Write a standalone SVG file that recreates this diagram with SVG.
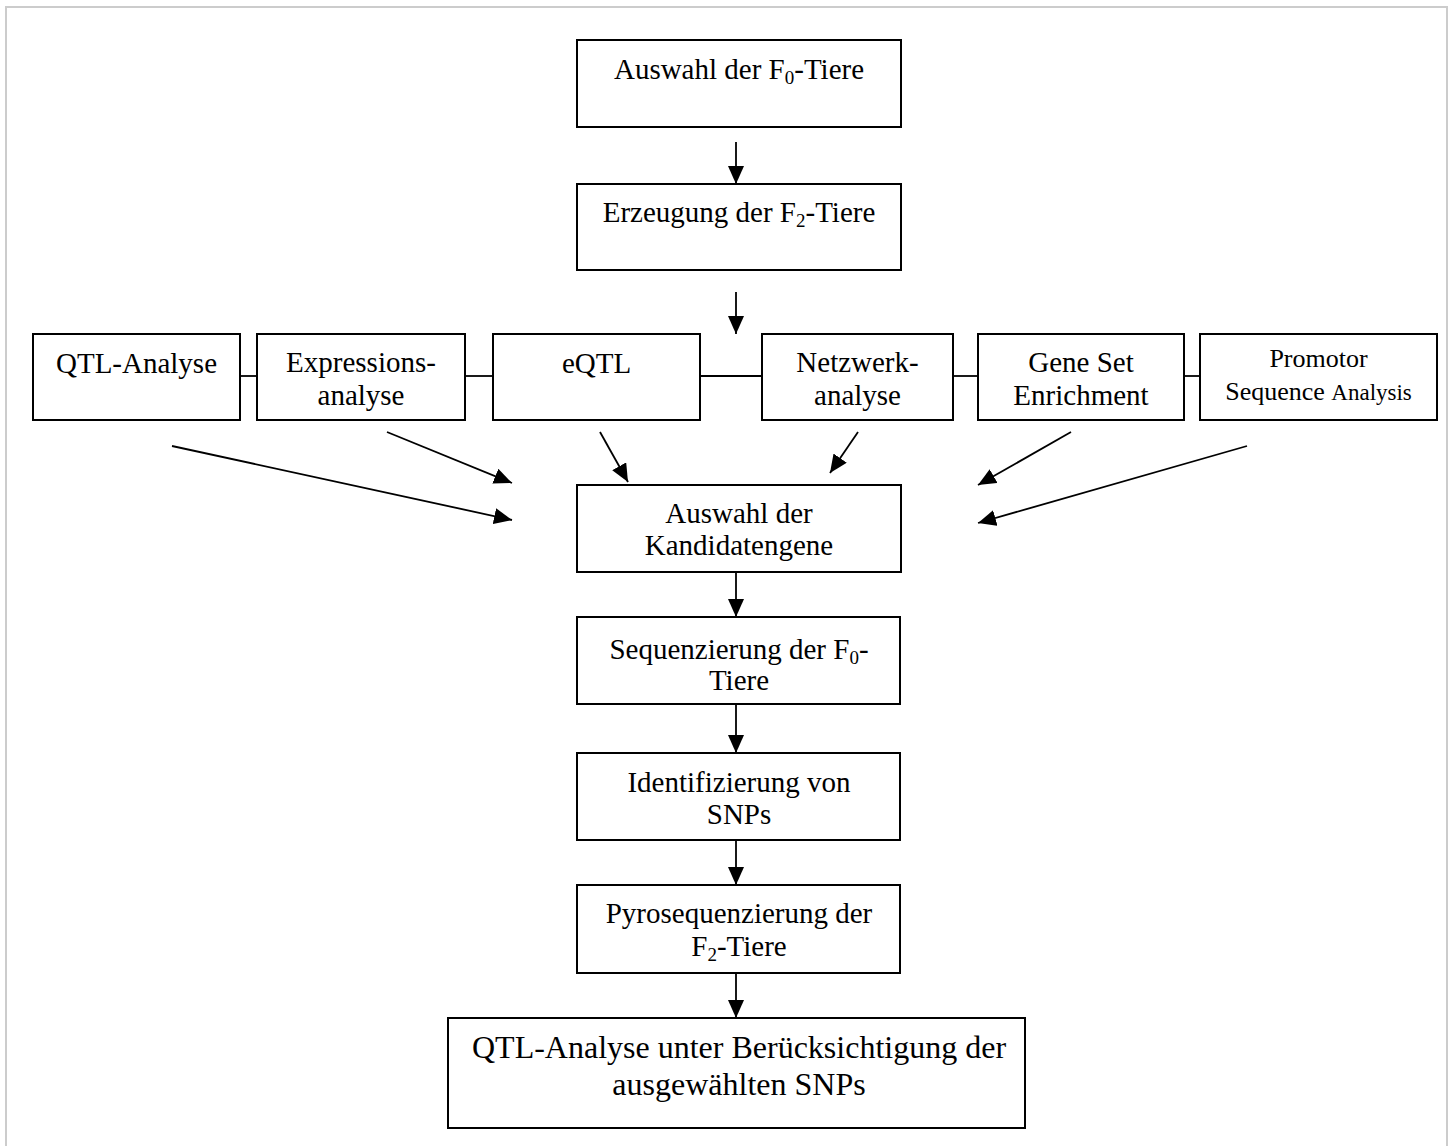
<svg xmlns="http://www.w3.org/2000/svg" width="1454" height="1146" viewBox="0 0 1454 1146">
<style>
.box{fill:#fff;stroke:#000;stroke-width:2}
.t{font-family:"Liberation Serif","Times New Roman",serif;font-size:29px;fill:#000;text-anchor:middle}
.big{font-size:32px}
.sub{font-size:19px}
.ln{stroke:#000;stroke-width:1.8;fill:none}
.arr{stroke:#000;stroke-width:1.8;fill:none;marker-end:url(#ah)}
</style>
<defs>
<marker id="ah" markerUnits="userSpaceOnUse" markerWidth="19" markerHeight="17" refX="18" refY="8" orient="auto">
<path d="M0,0 L18,8 L0,16 z" fill="#000"/>
</marker>
</defs>
<rect x="0" y="0" width="1454" height="1146" fill="#fff"/>
<rect x="6" y="7" width="1441" height="1150" fill="none" stroke="#cccccc" stroke-width="2"/>

<g id="connectors">
<line class="arr" x1="736" y1="142" x2="736" y2="184"/>
<line class="arr" x1="736" y1="292" x2="736" y2="334"/>
<line class="ln" x1="240" y1="376" x2="257" y2="376"/>
<line class="ln" x1="465" y1="376" x2="493" y2="376"/>
<line class="ln" x1="700" y1="376" x2="762" y2="376"/>
<line class="ln" x1="953" y1="376" x2="978" y2="376"/>
<line class="ln" x1="1184" y1="376" x2="1200" y2="376"/>
<line class="arr" x1="172" y1="446" x2="512" y2="520"/>
<line class="arr" x1="387" y1="432" x2="512" y2="483"/>
<line class="arr" x1="600" y1="432" x2="628" y2="482"/>
<line class="arr" x1="858" y1="432" x2="830" y2="473"/>
<line class="arr" x1="1071" y1="432" x2="978" y2="485"/>
<line class="arr" x1="1247" y1="446" x2="978" y2="523"/>
<line class="arr" x1="736" y1="572" x2="736" y2="617"/>
<line class="arr" x1="736" y1="704" x2="736" y2="753"/>
<line class="arr" x1="736" y1="840" x2="736" y2="885"/>
<line class="arr" x1="736" y1="973" x2="736" y2="1018"/>
</g>

<g id="n1">
<rect class="box" x="577" y="40" width="324" height="87"/>
<text class="t" x="739" y="79">Auswahl der F<tspan class="sub" dy="5">0</tspan><tspan dy="-5">-Tiere</tspan></text>
</g>
<g id="n2">
<rect class="box" x="577" y="184" width="324" height="86"/>
<text class="t" x="739" y="222">Erzeugung der F<tspan class="sub" dy="5">2</tspan><tspan dy="-5">-Tiere</tspan></text>
</g>
<g id="n3">
<rect class="box" x="33" y="334" width="207" height="86"/>
<text class="t" x="136.5" y="373">QTL-Analyse</text>
</g>
<g id="n4">
<rect class="box" x="257" y="334" width="208" height="86"/>
<text class="t" x="361" y="372">Expressions-</text>
<text class="t" x="361" y="405">analyse</text>
</g>
<g id="n5">
<rect class="box" x="493" y="334" width="207" height="86"/>
<text class="t" x="596.5" y="373">eQTL</text>
</g>
<g id="n6">
<rect class="box" x="762" y="334" width="191" height="86"/>
<text class="t" x="857.5" y="372">Netzwerk-</text>
<text class="t" x="857.5" y="405">analyse</text>
</g>
<g id="n7">
<rect class="box" x="978" y="334" width="206" height="86"/>
<text class="t" x="1081" y="372">Gene Set</text>
<text class="t" x="1081" y="405">Enrichment</text>
</g>
<g id="n8">
<rect class="box" x="1200" y="334" width="237" height="86"/>
<text class="t" x="1318.5" y="367" style="font-size:26px">Promotor</text>
<text class="t" x="1318.5" y="400" style="font-size:26px">Sequence <tspan style="font-size:23px">Analysis</tspan></text>
</g>
<g id="n9">
<rect class="box" x="577" y="485" width="324" height="87"/>
<text class="t" x="739" y="523">Auswahl der</text>
<text class="t" x="739" y="555">Kandidatengene</text>
</g>
<g id="n10">
<rect class="box" x="577" y="617" width="323" height="87"/>
<text class="t" x="739" y="659">Sequenzierung der F<tspan class="sub" dy="5">0</tspan><tspan dy="-5">-</tspan></text>
<text class="t" x="739" y="690">Tiere</text>
</g>
<g id="n11">
<rect class="box" x="577" y="753" width="323" height="87"/>
<text class="t" x="739" y="792">Identifizierung von</text>
<text class="t" x="739" y="824">SNPs</text>
</g>
<g id="n12">
<rect class="box" x="577" y="885" width="323" height="88"/>
<text class="t" x="739" y="923">Pyrosequenzierung der</text>
<text class="t" x="739" y="956">F<tspan class="sub" dy="5">2</tspan><tspan dy="-5">-Tiere</tspan></text>
</g>
<g id="n13">
<rect class="box" x="448" y="1018" width="577" height="110"/>
<text class="t big" x="739" y="1058">QTL-Analyse unter Berücksichtigung der</text>
<text class="t big" x="739" y="1095">ausgewählten SNPs</text>
</g>
</svg>
